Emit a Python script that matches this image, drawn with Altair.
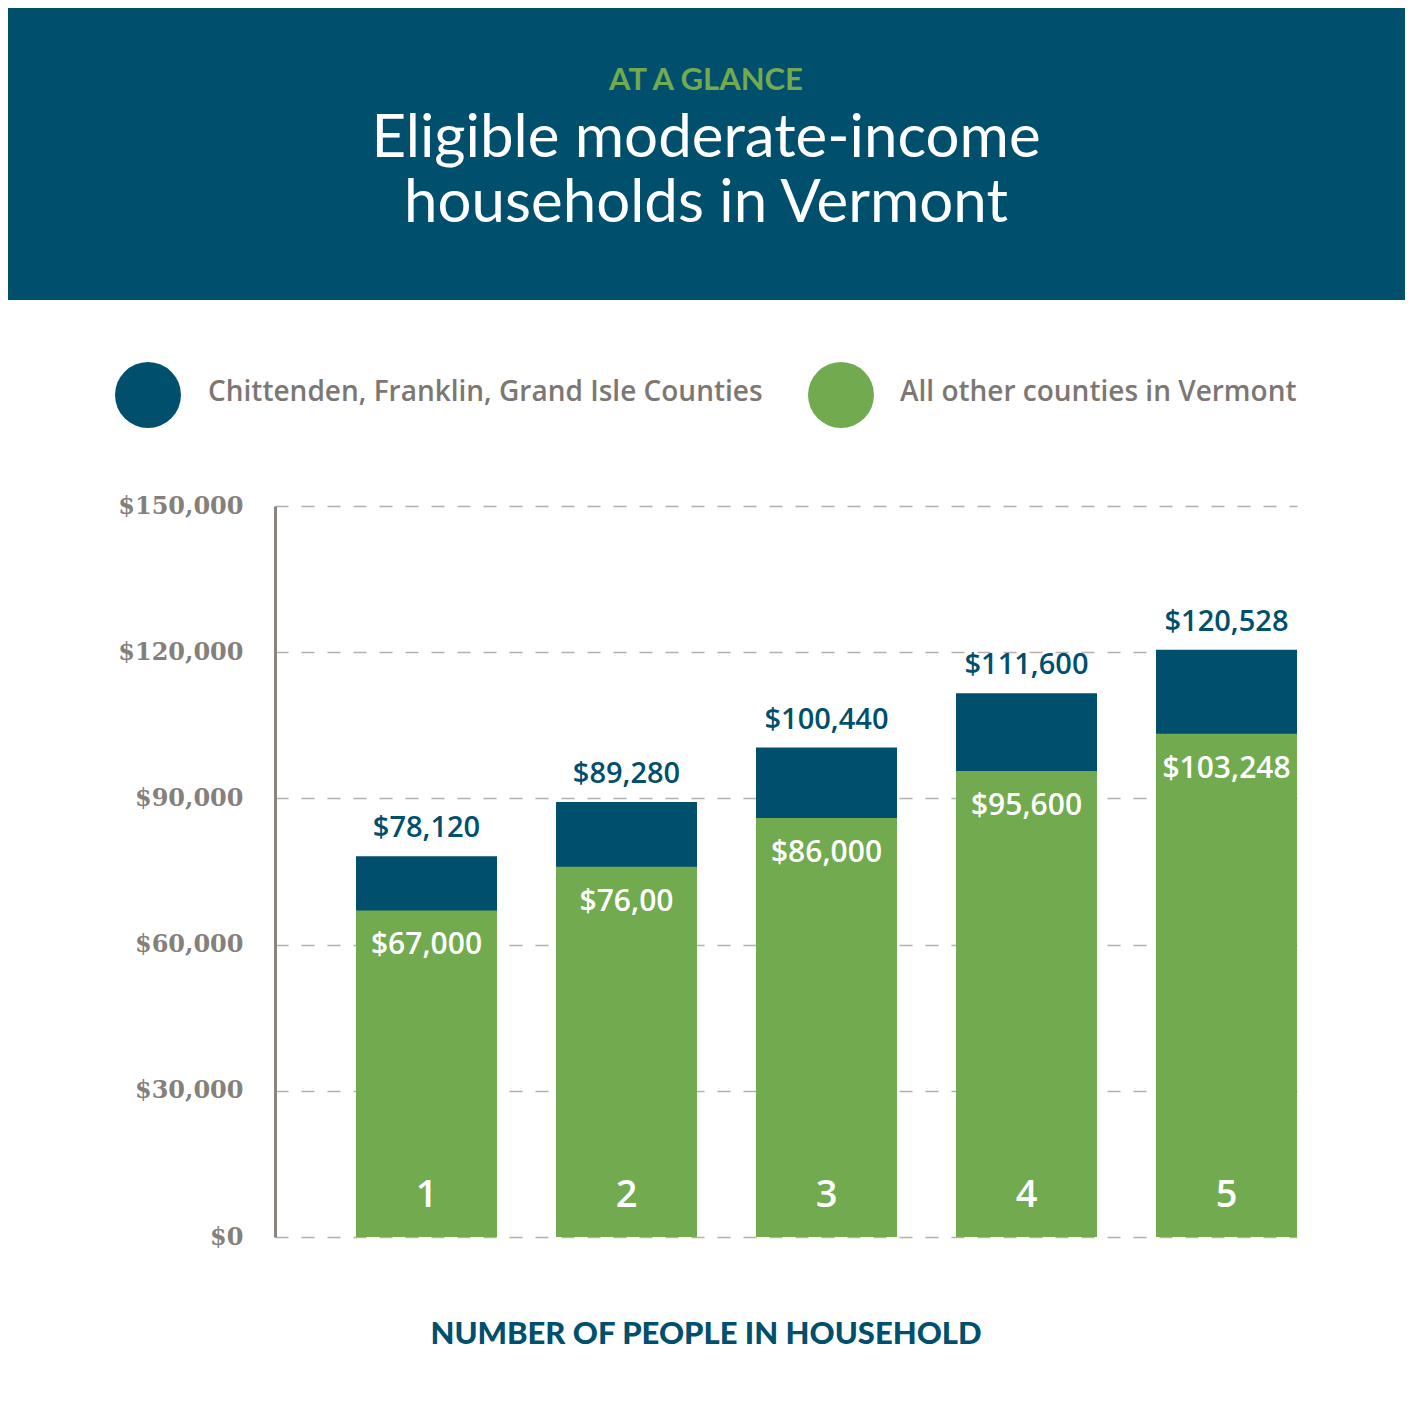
import altair as alt
import pandas as pd

# ---- data ----
households = ["1", "2", "3", "4", "5"]
totals = [78120, 89280, 100440, 111600, 120528]          # Chittenden, Franklin, Grand Isle
others = [67000, 76000, 86000, 95600, 103248]            # All other counties
total_labels = ["$78,120", "$89,280", "$100,440", "$111,600", "$120,528"]
other_labels = ["$67,000", "$76,00", "$86,000", "$95,600", "$103,248"]
y_ticks = [0, 30000, 60000, 90000, 120000, 150000]

series_names = ["Chittenden, Franklin, Grand Isle Counties", "All other counties in Vermont"]
kicker = "AT A GLANCE"
title_lines = ["Eligible moderate-income", "households in Vermont"]
x_title = "NUMBER OF PEOPLE IN HOUSEHOLD"

BLUE = "#004F6D"
GREEN = "#72AA4F"
GRAY = "#7D7773"

df = pd.DataFrame({
    "household": households,
    "total": totals,
    "other": others,
    "total_label": total_labels,
    "other_label": other_labels,
})

PW, PH = 1022, 731
one = alt.Data(values=[{"k": 1}])

xenc = alt.X("household:O", axis=None,
             scale=alt.Scale(paddingInner=0.295, paddingOuter=0.2025, align=1))
yscale = alt.Scale(domain=[0, 150000], nice=False)

# header band
band = alt.Chart(one).mark_rect(color=BLUE).encode(
    x=alt.value(-300), x2=alt.value(1200), y=alt.value(-540), y2=alt.value(-206)
)
kick = alt.Chart(one).mark_text(font="Lato", fontWeight="bold", fontSize=31,
                                color=GREEN, align="center", baseline="middle").encode(
    x=alt.value(431), y=alt.value(-425), text=alt.value(kicker))
t1 = alt.Chart(one).mark_text(font="Lato", fontSize=60, color="white",
                              align="center", baseline="middle").encode(
    x=alt.value(431), y=alt.value(-367), text=alt.value(title_lines[0]))
t2 = alt.Chart(one).mark_text(font="Lato", fontSize=60, color="white",
                              align="center", baseline="middle").encode(
    x=alt.value(431), y=alt.value(-302), text=alt.value(title_lines[1]))

# legend
leg1 = alt.Chart(one).mark_point(filled=True, shape="circle", size=4356, color=BLUE, opacity=1).encode(
    x=alt.value(148 - 275), y=alt.value(395 - 506))
leg1t = alt.Chart(one).mark_text(font="Open Sans", fontSize=28, fontWeight=600, color=GRAY,
                                 align="left", baseline="middle").encode(
    x=alt.value(208 - 275), y=alt.value(393 - 506), text=alt.value(series_names[0]))
leg2 = alt.Chart(one).mark_point(filled=True, shape="circle", size=4356, color=GREEN, opacity=1).encode(
    x=alt.value(841 - 275), y=alt.value(395 - 506))
leg2t = alt.Chart(one).mark_text(font="Open Sans", fontSize=28, fontWeight=600, color=GRAY,
                                 align="left", baseline="middle").encode(
    x=alt.value(900 - 275), y=alt.value(393 - 506), text=alt.value(series_names[1]))

base = alt.Chart(df)

blue_bars = base.mark_bar(color=BLUE).encode(
    x=xenc,
    y=alt.Y("total:Q", scale=yscale, title=None,
            axis=alt.Axis(values=y_ticks, format="$,.0f", domain=True, domainColor="#8A8480",
                          domainWidth=3, ticks=False, labelPadding=32,
                          labelFont="DejaVu Serif", labelFontSize=24, labelFontWeight="bold",
                          labelColor="#85807C",
                          grid=True, gridDash=[13, 13], gridColor="#B5B0AD", gridWidth=1.5)),
)
green_bars = base.mark_bar(color=GREEN).encode(x=xenc, y=alt.Y("other:Q", scale=yscale))

total_text = base.mark_text(font="Open Sans", fontWeight=600, fontSize=29, color=BLUE,
                            baseline="middle", dy=-28).encode(
    x=xenc, y=alt.Y("total:Q", scale=yscale), text="total_label:N")
other_text = base.mark_text(font="Open Sans", fontWeight=600, fontSize=30, color="white",
                            baseline="middle", dy=35).encode(
    x=xenc, y=alt.Y("other:Q", scale=yscale), text="other_label:N")
num_text = base.mark_text(font="Open Sans", fontWeight=600, fontSize=38, color="white",
                          baseline="middle").encode(
    x=xenc, y=alt.value(690), text="household:N")

xt = alt.Chart(one).mark_text(font="Lato", fontWeight=900, fontSize=31, color=BLUE,
                              align="center", baseline="middle").encode(
    x=alt.value(431), y=alt.value(1335 - 506), text=alt.value(x_title))

chart = alt.layer(
    band, kick, t1, t2, leg1, leg1t, leg2, leg2t,
    blue_bars, green_bars, total_text, other_text, num_text, xt
).properties(
    width=PW, height=PH,
    autosize=alt.AutoSizeParams(type="none"),
    padding={"left": 267, "top": 498, "right": 108, "bottom": 161},
    background="white",
).configure_view(stroke=None)

chart.save("out.html", embed_options={"renderer": "svg", "actions": False})
